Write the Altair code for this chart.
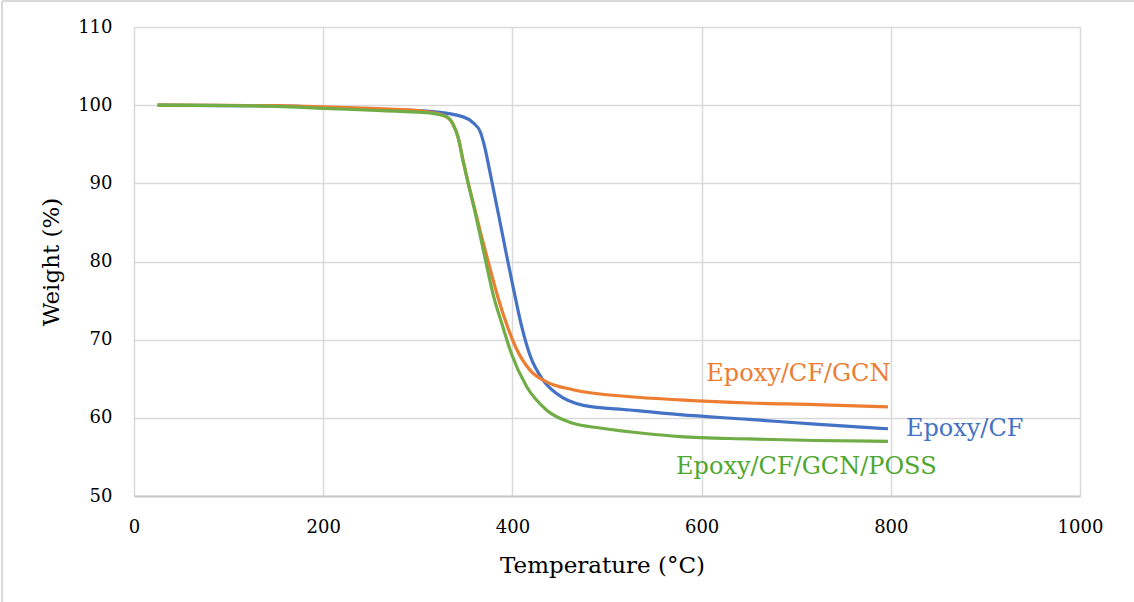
import altair as alt
import pandas as pd

# Epoxy/CF
cf_t = [25, 100, 150, 200, 250, 313, 348, 359, 366, 371, 375, 380, 386, 394, 401, 410, 418.6, 432.6, 446.8, 475, 524, 577, 650, 720, 797]
cf_w = [100, 99.95, 99.9, 99.7, 99.5, 99.2, 98.5, 97.7, 96.6, 94.5, 92.2, 89.2, 85.6, 80.7, 76.6, 71.6, 68.0, 64.8, 63.1, 61.6, 61.0, 60.4, 59.8, 59.2, 58.6]

# Epoxy/CF/GCN
gcn_t = [25, 100, 150, 200, 250, 300, 315, 330.6, 337.5, 342.8, 348, 353.6, 360, 367, 374.6, 385, 395, 404, 418.6, 436, 464, 524, 577, 650, 720, 797]
gcn_w = [100, 99.97, 99.93, 99.8, 99.6, 99.3, 99.05, 98.5, 97.5, 95.8, 92.8, 89.9, 86.8, 83.4, 79.9, 75.3, 71.6, 68.9, 66.1, 64.6, 63.6, 62.7, 62.3, 61.9, 61.7, 61.4]

# Epoxy/CF/GCN/POSS
poss_t = [25, 100, 150, 200, 250, 300, 313, 330.6, 337.5, 342.8, 348, 353.6, 360, 366, 371, 380, 389, 399, 415, 436, 464, 492.6, 540, 577, 650, 720, 797]
poss_w = [100, 99.95, 99.85, 99.6, 99.35, 99.1, 99.0, 98.5, 97.5, 95.8, 92.8, 89.8, 86.6, 83.3, 80.5, 75.6, 72.0, 68.2, 64.0, 61.0, 59.3, 58.7, 58.0, 57.6, 57.3, 57.1, 57.0]

series_names = ["Epoxy/CF", "Epoxy/CF/GCN", "Epoxy/CF/GCN/POSS"]
line_colors = ["#4472C4", "#ED7D31", "#70AD47"]
text_colors = ["#4472C4", "#ED7D31", "#4EA72E"]
label_t = [816, 605, 573]
label_w = [58.6, 65.6, 53.7]

x_ticks = [0, 200, 400, 600, 800, 1000]
y_ticks = [50, 60, 70, 80, 90, 100, 110]

rows = []
for name, ts, ws in zip(series_names, [cf_t, gcn_t, poss_t], [cf_w, gcn_w, poss_w]):
    for i, (t, w) in enumerate(zip(ts, ws)):
        rows.append({"series": name, "T": t, "W": w, "order": i})
df = pd.DataFrame(rows)
labels = pd.DataFrame({"series": series_names, "T": label_t, "W": label_w})

FONT = "DejaVu Serif"
W, H = 946, 469

xs = alt.X("T:Q", scale=alt.Scale(domain=[0, 1000], nice=False),
           axis=alt.Axis(values=x_ticks, format="d", labelFlush=False, title="Temperature (°C)",
                         labelPadding=22, titlePadding=18, titleX=468))
ys = alt.Y("W:Q", scale=alt.Scale(domain=[50, 110], nice=False, zero=False),
           axis=alt.Axis(values=y_ticks, format="d", title="Weight (%)", labelPadding=22, titlePadding=14))
color = alt.Color("series:N", scale=alt.Scale(domain=series_names, range=line_colors), legend=None)

lines = alt.Chart(df).mark_line(strokeWidth=3.2, interpolate="monotone").encode(
    x=xs, y=ys, color=color, order="order:Q", detail="series:N")

texts = alt.Chart(labels).mark_text(align="left", baseline="middle", font=FONT, fontSize=24).encode(
    x="T:Q", y="W:Q", text="series:N",
    color=alt.Color("series:N", scale=alt.Scale(domain=series_names, range=text_colors), legend=None))

border_top = alt.Chart(labels).mark_rule(color="#D9D9D9", strokeWidth=2, clip=False).encode(
    x=alt.value(-132), x2=alt.value(W + 54), y=alt.value(-26))
border_left = alt.Chart(labels).mark_rule(color="#D9D9D9", strokeWidth=2, clip=False).encode(
    x=alt.value(-132), y=alt.value(-26), y2=alt.value(H + 110))

chart = alt.layer(lines, texts, border_top, border_left).resolve_scale(color="independent").properties(
    width=W, height=H,
    autosize=alt.AutoSizeParams(type="none"),
    padding={"left": 134, "top": 27, "right": 54, "bottom": 106},
    background="white",
).configure_view(stroke=None).configure_axis(
    grid=True, gridColor="#D9D9D9", gridWidth=1.5, ticks=False,
    labelFont=FONT, labelFontSize=18, labelColor="#000000",
    titleFont=FONT, titleFontSize=23, titleFontWeight="normal", titleColor="#000000",
).configure_axisX(domain=True, domainColor="#C8C8C8", domainWidth=2).configure_axisY(domain=False)

chart.save("out.html", embed_options={"renderer": "svg", "actions": False})
